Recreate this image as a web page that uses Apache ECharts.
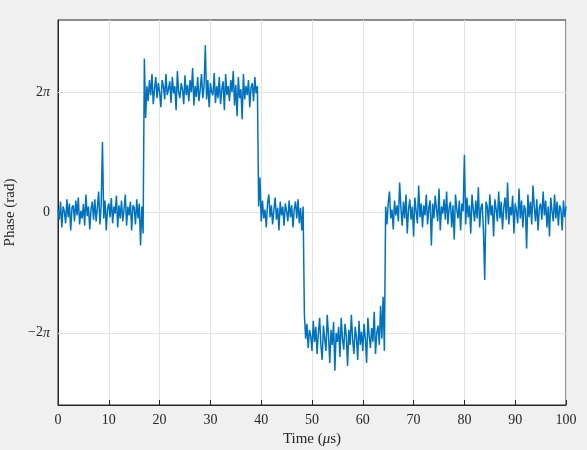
<!DOCTYPE html>
<html><head><meta charset="utf-8">
<script src="https://cdn.jsdelivr.net/npm/echarts@6/dist/echarts.min.js"></script>
<style>html,body{margin:0;padding:0;background:#f0f0f0}#c{width:587px;height:450px}</style>
</head><body><div id="c"></div>
<script>
// phase values in units of pi, sampled every 0.25 us
const step = 0.25;
const segStarts = [0, 17, 39.5, 48.5, 64.5];
const segA = [0.05,-0.12,0.18,-0.25,0.1,0.02,-0.18,0.22,-0.08,0.15,
-0.3,0.08,0.12,-0.15,0.2,-0.05,0.25,-0.2,0.03,-0.1,
0.14,-0.22,0.3,-0.06,0.1,-0.28,0.05,0.18,-0.12,0.22,
-0.15,0.08,0.35,-0.2,0.12,1.17,-0.1,0.2,-0.3,0.06,
0.15,-0.08,0.24,-0.18,0.1,-0.02,0.28,-0.25,0.12,-0.1,
0.2,-0.15,0.05,0.3,-0.22,0.1,-0.05,0.18,-0.3,0.12,
0.08,-0.2,0.22,-0.1,0.15,-0.55,0.1,-0.35];
const segB = [2.56,1.57,2.1,1.85,2.2,1.95,2.3,1.8,2.05,2.25,
1.9,2.15,2.0,1.75,2.2,2.1,1.88,2.3,1.95,2.05,
2.18,1.82,2.25,1.98,2.1,1.7,2.35,2.0,1.9,2.15,
2.05,1.8,2.28,1.95,2.12,1.85,2.2,2.0,2.4,1.78,
2.1,1.92,2.25,1.85,2.05,2.3,1.9,2.1,2.78,1.88,
2.2,1.75,2.15,2.0,1.95,2.32,1.82,2.1,1.9,2.25,
1.8,2.05,2.18,1.7,2.3,1.95,2.1,1.85,2.2,2.0,
2.35,1.78,2.12,1.6,2.25,1.9,2.05,1.55,2.3,1.88,
2.1,1.95,2.2,1.75,2.08,2.15,1.85,2.25,1.98,2.1];
const segC = [0.1,0.58,-0.15,0.2,-0.1,0.05,-0.25,0.15,0.3,-0.08,
0.12,-0.2,0.05,0.25,-0.12,0.08,-0.3,0.18,-0.05,0.1,
-0.22,0.15,0.02,-0.15,0.2,-0.08,0.12,-0.25,0.05,0.18,
-0.1,0.22,-0.18,0.08,-0.3,0.1];
const segD = [-1.7,-2.1,-1.85,-2.25,-1.95,-2.05,-2.3,-1.8,-2.15,-1.9,
-2.35,-2.0,-1.75,-2.2,-2.45,-1.88,-2.1,-2.3,-1.7,-2.05,
-2.5,-1.95,-2.2,-1.82,-2.63,-2.0,-2.15,-1.9,-2.4,-1.75,
-2.1,-2.28,-1.85,-2.05,-2.55,-1.95,-2.2,-1.7,-2.12,-2.35,
-1.9,-2.08,-2.45,-1.8,-2.2,-1.98,-2.3,-1.85,-2.1,-2.5,
-1.75,-2.05,-2.25,-1.92,-2.15,-1.65,-2.35,-2.0,-1.88,-2.2,
-1.55,-2.1,-1.4,-2.3];
const segE = [0.1,-0.2,0.15,0.35,-0.1,0.05,-0.28,0.2,-0.05,0.12,
-0.15,0.5,0.08,-0.22,0.18,-0.1,0.3,-0.35,0.05,0.22,
-0.12,0.1,-0.4,0.25,0.02,-0.18,0.45,-0.08,0.15,-0.25,
0.12,-0.05,0.3,-0.2,0.08,0.2,-0.55,0.15,-0.1,0.28,
0.05,-0.15,0.4,-0.3,0.1,-0.02,0.22,-0.12,0.35,-0.2,
0.08,0.18,-0.25,0.12,-0.45,0.3,0.05,-0.1,0.2,-0.3,
0.15,0.02,0.96,-0.2,0.25,-0.08,0.12,-0.35,0.3,0.05,
-0.15,0.2,-0.1,0.42,-0.25,0.08,0.15,-0.3,-1.12,0.18,
0.1,-0.2,0.3,-0.05,0.12,-0.4,0.22,0.05,-0.15,0.35,
-0.1,0.18,-0.28,0.08,0.25,-0.12,0.5,-0.2,0.1,-0.05,
0.28,-0.35,0.15,0.02,-0.18,0.4,-0.1,0.2,-0.25,0.12,
0.05,-0.6,0.3,-0.08,0.18,-0.2,0.45,0.1,-0.15,0.22,
-0.3,0.08,0.15,-0.12,0.35,-0.05,0.2,-0.25,0.1,-0.4,
0.25,0.02,-0.15,0.3,-0.1,0.18,-0.22,0.12,0.05,-0.3,
0.2,-0.08,0.1];
const segments = [segA, segB, segC, segD, segE];
const yTickVals = [-2, 0, 2];

const data = [];
segments.forEach((s, k) => s.forEach((v, i) => data.push([segStarts[k] + i * step, v])));

const font = 'Liberation Serif';
const chart = echarts.init(document.getElementById('c'));
chart.setOption({
  backgroundColor: '#f0f0f0',
  animation: false,
  grid: {left: 58, right: 21, top: 20, bottom: 45, containLabel: false, outerBoundsMode: 'none',
         show: true, backgroundColor: '#fff', borderColor: '#262626', borderWidth: 1},
  xAxis: {
    type: 'value', min: 0, max: 100, interval: 10,
    name: '{a|Time (}{b|μ}{a|s)}', nameLocation: 'middle', nameGap: 24,
    nameTextStyle: {rich: {a: {fontFamily: font, fontSize: 15, color: '#262626'}, b: {fontFamily: font, fontSize: 15, fontStyle: 'italic', color: '#262626'}}},
    axisLine: {onZero: false, lineStyle: {color: '#262626'}},
    axisTick: {inside: true, length: 5, lineStyle: {color: '#262626'}},
    axisLabel: {fontFamily: font, fontSize: 14, color: '#262626', margin: 8},
    splitLine: {lineStyle: {color: '#e3e3e3'}}
  },
  yAxis: {
    type: 'value', min: -3.2, max: 3.2, interval: 0.4,
    name: 'Phase (rad)', nameLocation: 'middle', nameGap: 30,
    nameTextStyle: {fontFamily: font, fontSize: 15, color: '#262626'},
    axisLine: {onZero: false, lineStyle: {color: '#262626'}},
    axisTick: {show: false},
    splitLine: {show: false},
    axisLabel: {
      margin: 8,
      formatter: v => {
        const r = Math.round(v * 10) / 10;
        if (!yTickVals.includes(r)) return '';
        if (r === 0) return '{a|0}';
        return '{a|' + (r < 0 ? '−2' : '2') + '}{b|π}';
      },
      rich: {a: {fontFamily: font, fontSize: 14, color: '#262626'}, b: {fontFamily: font, fontSize: 14, fontStyle: 'italic', color: '#262626'}}
    }
  },
  series: [{
    type: 'line', data: [], z: 1, silent: true,
    markLine: {
      silent: true, symbol: 'none', label: {show: false}, z: 1,
      lineStyle: {color: '#e3e3e3', type: 'solid', width: 1},
      emphasis: {disabled: true},
      data: yTickVals.map(v => ({yAxis: v}))
    }
  }, {
    type: 'line', data: data, showSymbol: false, symbol: 'none',
    lineStyle: {color: '#0072BD', width: 1.5}, z: 3
  }]
});
</script></body></html>
